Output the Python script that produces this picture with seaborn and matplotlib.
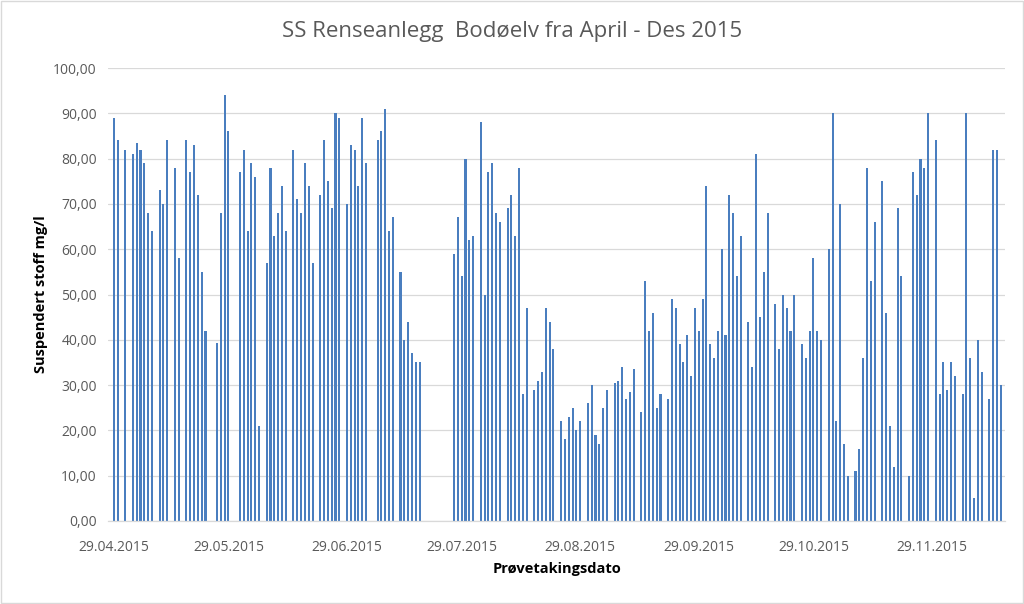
import matplotlib
matplotlib.use("Agg")
import matplotlib.pyplot as plt
import seaborn as sns
import pandas as pd
from matplotlib.patches import Rectangle

# Sample dates (dd.mm, year 2015) and suspended solids values (mg/l)
dates = [
    "29.04", "30.04", "02.05", "04.05", "05.05", "06.05", "07.05", "08.05", "09.05", "11.05",
    "12.05", "13.05", "15.05", "16.05", "18.05", "19.05", "20.05", "21.05", "22.05", "23.05",
    "26.05", "27.05", "28.05", "29.05", "01.06", "02.06", "03.06", "04.06", "05.06", "06.06",
    "08.06", "09.06", "10.06", "11.06", "12.06", "13.06", "15.06", "16.06", "17.06", "18.06",
    "19.06", "20.06", "22.06", "23.06", "24.06", "25.06", "26.06", "27.06", "29.06", "30.06",
    "01.07", "02.07", "03.07", "04.07", "07.07", "08.07", "09.07", "10.07", "11.07", "13.07",
    "14.07", "15.07", "16.07", "17.07", "18.07", "27.07", "28.07", "29.07", "30.07", "31.07",
    "01.08", "03.08", "04.08", "05.08", "06.08", "07.08", "08.08", "10.08", "11.08", "12.08",
    "13.08", "14.08", "15.08", "17.08", "18.08", "19.08", "20.08", "21.08", "22.08", "24.08",
    "25.08", "26.08", "27.08", "28.08", "29.08", "31.08", "01.09", "02.09", "03.09", "04.09",
    "05.09", "07.09", "08.09", "09.09", "10.09", "11.09", "12.09", "14.09", "15.09", "16.09",
    "17.09", "18.09", "19.09", "21.09", "22.09", "23.09", "24.09", "25.09", "26.09", "27.09",
    "28.09", "29.09", "30.09", "01.10", "02.10", "03.10", "04.10", "05.10", "06.10", "07.10",
    "08.10", "09.10", "10.10", "12.10", "13.10", "14.10", "15.10", "16.10", "17.10", "19.10",
    "20.10", "21.10", "22.10", "23.10", "24.10", "26.10", "27.10", "28.10", "29.10", "30.10",
    "31.10", "02.11", "03.11", "04.11", "05.11", "06.11", "07.11", "09.11", "10.11", "11.11",
    "12.11", "13.11", "14.11", "16.11", "17.11", "18.11", "19.11", "20.11", "21.11", "23.11",
    "24.11", "25.11", "26.11", "27.11", "28.11", "30.11", "01.12", "02.12", "03.12", "04.12",
    "05.12", "07.12", "08.12", "09.12", "10.12", "11.12", "12.12", "14.12", "15.12", "16.12",
    "17.12",
]
values = [
    89, 84, 82, 81, 83.5, 82, 79, 68, 64, 73,
    70, 84, 78, 58, 84, 77, 83, 72, 55, 42,
    39.3, 68, 94, 86, 77, 82, 64, 79, 76, 21,
    57, 78, 63, 68, 74, 64, 82, 71, 68, 79,
    74, 57, 72, 84, 75, 69, 90, 89, 70, 83,
    82, 74, 89, 79, 84, 86, 91, 64, 67, 55,
    40, 44, 37, 35, 35, 59, 67, 54, 80, 62,
    63, 88, 50, 77, 79, 68, 66, 69, 72, 63,
    78, 28, 47, 29, 31, 33, 47, 44, 38, 22,
    18, 23, 25, 20, 22, 26, 30, 19, 17, 25,
    29, 30.5, 31, 34, 27, 28.4, 33.5, 24, 53, 42,
    46, 25, 28, 27, 49, 47, 39, 35, 41, 32,
    47, 42, 49, 74, 39, 36, 42, 60, 41, 72,
    68, 54, 63, 44, 34, 81, 45, 55, 68, 48,
    38, 50, 47, 42, 50, 39, 36, 42, 58, 42,
    40, 60, 90, 22, 70, 17, 10, 11, 16, 36,
    78, 53, 66, 75, 46, 21, 12, 69, 54, 10,
    77, 72, 80, 78, 90, 84, 28, 35, 29, 35,
    32, 28, 90, 36, 5, 40, 33, 27, 82, 82,
    30,
]
tick_dates = ["29.04", "29.05", "29.06", "29.07", "29.08", "29.09", "29.10", "29.11"]
y_ticks = [0, 10, 20, 30, 40, 50, 60, 70, 80, 90, 100]

title = "SS Renseanlegg  Bodøelv fra April - Des 2015"
ylabel = "Suspendert stoff mg/l"
xlabel = "Prøvetakingsdato"

start = pd.Timestamp("2015-04-29")
def to_day(s):
    return (pd.to_datetime(s + ".2015", format="%d.%m.%Y") - start).days

df = pd.DataFrame({"day": [to_day(d) for d in dates], "value": values})

sns.set_theme(style="white")
plt.rcParams["font.family"] = ["Open Sans", "DejaVu Sans"]

fig = plt.figure(figsize=(10.24, 6.04), dpi=100)
ax = fig.add_axes([108 / 1024, 1 - 521 / 604, (1005 - 108) / 1024, (521 - 68) / 604])

sns.barplot(data=df, x="day", y="value", native_scale=True, width=0.55,
            color="#4A7EBF", saturation=1, linewidth=0, ax=ax)

ax.set_ylim(0, 100)
ax.set_xlim(-1.5, 233.1)
ax.set_yticks(y_ticks)
ax.set_yticklabels([f"{v:.2f}".replace(".", ",") for v in y_ticks])
ax.set_xticks([to_day(d) for d in tick_dates])
ax.set_xticklabels([d + ".2015" for d in tick_dates])
ax.tick_params(axis="y", colors="#595959", labelsize=10, length=0, pad=8)
ax.tick_params(axis="x", colors="#595959", labelsize=10, length=0, pad=14)
ax.grid(axis="y", color="#D9D9D9", linewidth=0.9)
ax.set_axisbelow(True)
for side in ["top", "right", "left"]:
    ax.spines[side].set_visible(False)
ax.spines["bottom"].set_color("#D9D9D9")
ax.spines["bottom"].set_linewidth(0.9)

ax.set_ylabel(ylabel, fontsize=10.5, fontweight="bold", color="black", labelpad=4)
ax.set_xlabel(xlabel, fontsize=10.5, fontweight="bold", color="black", labelpad=5)
fig.text(0.5, 1 - 32 / 604, title, ha="center", va="center", fontsize=16, color="#595959")

fig.patches.append(Rectangle((0.001, 0.001), 0.998, 0.997, transform=fig.transFigure,
                             fill=False, edgecolor="#D9D9D9", linewidth=1))

fig.savefig("out.png", dpi=100)
